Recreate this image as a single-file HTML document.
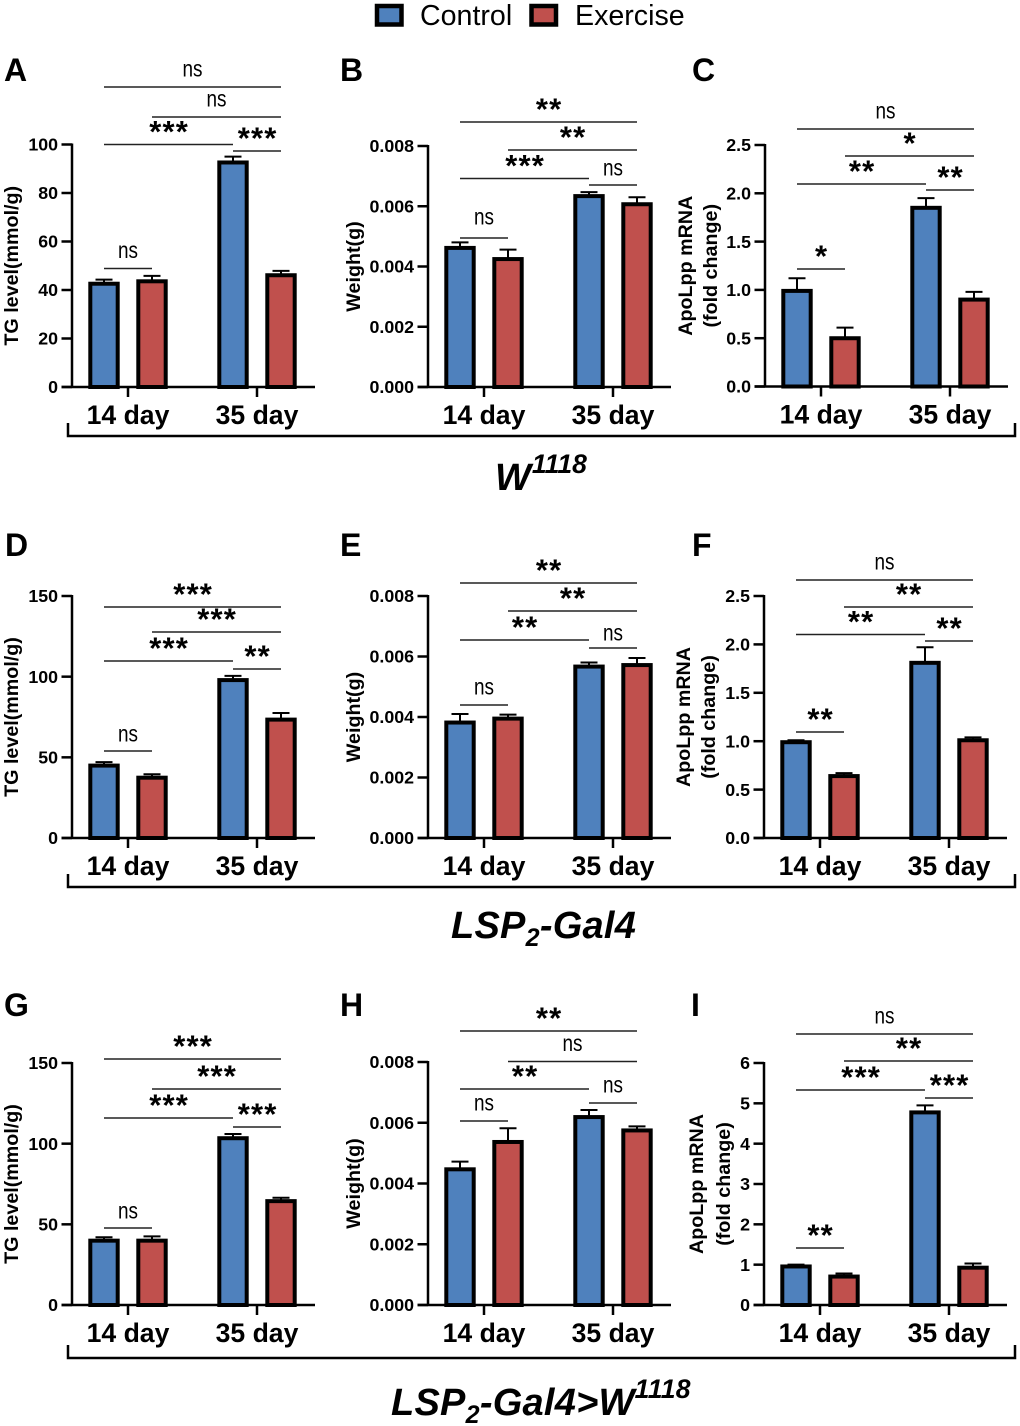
<!DOCTYPE html>
<html lang="en">
<head>
<meta charset="utf-8">
<title>Control vs Exercise bar charts</title>
<style>
html,body{margin:0;padding:0;background:#fff}
svg{display:block}
text{font-family:"Liberation Sans",Arial,sans-serif;fill:#000}
</style>
</head>
<body>
<svg id="figure" xmlns="http://www.w3.org/2000/svg" width="1020" height="1426" viewBox="0 0 1020 1426">
  <g>
    <rect x="377" y="6" width="24.5" height="18.5" fill="#4f81bd" stroke="#000" stroke-width="4.5"/>
    <text x="420" y="25" font-size="28.6">Control</text>
    <rect x="531.5" y="6" width="24.5" height="18.5" fill="#c0504d" stroke="#000" stroke-width="4.5"/>
    <text x="575" y="25" font-size="28.6">Exercise</text>
  </g>
  <text font-weight="bold" font-style="italic" font-size="38" x="495" y="490">W<tspan font-size="26.5" dy="-17" dx="1">1118</tspan></text>
  <text font-weight="bold" font-style="italic" font-size="38" x="451" y="938" letter-spacing="0.25">LSP<tspan font-size="25" dy="8">2</tspan><tspan dy="-8">-Gal4</tspan></text>
  <text font-weight="bold" font-style="italic" font-size="38" x="391" y="1415" letter-spacing="0.25">LSP<tspan font-size="25" dy="8">2</tspan><tspan dy="-8">-Gal4&gt;W</tspan><tspan font-size="26.5" dy="-17">1118</tspan></text>
  <g id="brackets"></g>
  <g id="panels"></g>
</svg>
<script>
const categories = ['14 day', '35 day'];
const seriesNames = ['Control', 'Exercise'];

const ticksTG100 = ['0', '20', '40', '60', '80', '100'];
const ticksTG150 = ['0', '50', '100', '150'];
const ticksWeight = ['0.000', '0.002', '0.004', '0.006', '0.008'];
const ticksApo25 = ['0.0', '0.5', '1.0', '1.5', '2.0', '2.5'];
const ticksApo6 = ['0', '1', '2', '3', '4', '5', '6'];

const controlA = [43, 93];
const exerciseA = [44, 46.5];
const controlErrA = [1.3, 2];
const exerciseErrA = [1.8, 1.4];
const sigA = ['ns', 'ns', '***', '***', 'ns'];

const controlB = [0.00465, 0.00637];
const exerciseB = [0.00428, 0.0061];
const controlErrB = [0.00015, 0.0001];
const exerciseErrB = [0.00028, 0.0002];
const sigB = ['**', '**', '***', 'ns', 'ns'];

const controlC = [1.0, 1.86];
const exerciseC = [0.51, 0.91];
const controlErrC = [0.12, 0.09];
const exerciseErrC = [0.1, 0.07];
const sigC = ['ns', '*', '**', '**', '*'];

const controlD = [45.5, 98.5];
const exerciseD = [38, 74];
const controlErrD = [1.5, 2];
const exerciseErrD = [1.5, 3.5];
const sigD = ['***', '***', '***', '**', 'ns'];

const controlE = [0.00385, 0.0057];
const exerciseE = [0.00398, 0.00575];
const controlErrE = [0.00025, 0.0001];
const exerciseErrE = [0.0001, 0.0002];
const sigE = ['**', '**', '**', 'ns', 'ns'];

const controlF = [1.0, 1.82];
const exerciseF = [0.65, 1.02];
const controlErrF = [0.01, 0.15];
const exerciseErrF = [0.02, 0.02];
const sigF = ['ns', '**', '**', '**', '**'];

const controlG = [40.5, 104];
const exerciseG = [40.5, 65];
const controlErrG = [1.5, 2];
const exerciseErrG = [2, 1.5];
const sigG = ['***', '***', '***', '***', 'ns'];

const controlH = [0.0045, 0.00622];
const exerciseH = [0.0054, 0.00578];
const controlErrH = [0.00022, 0.0002];
const exerciseErrH = [0.00042, 0.0001];
const sigH = ['**', 'ns', '**', 'ns', 'ns'];

const controlI = [0.98, 4.8];
const exerciseI = [0.73, 0.95];
const controlErrI = [0.02, 0.15];
const exerciseErrI = [0.05, 0.08];
const sigI = ['ns', '**', '***', '***', '**'];

const SVGNS = 'http://www.w3.org/2000/svg';
const panelsRoot = document.getElementById('panels');
const bracketsRoot = document.getElementById('brackets');

function make(parent, tag, props, text) {
  const el = document.createElementNS(SVGNS, tag);
  for (const k in props) el.setAttribute(k, props[k]);
  if (text !== undefined) el.textContent = text;
  parent.appendChild(el);
  return el;
}

/* significance brackets connect bar indexes: 0 14d-ctrl, 1 14d-ex, 2 35d-ctrl, 3 35d-ex */
const sigSpans = [[0, 3], [1, 3], [0, 2], [2, 3], [0, 1]];

function drawPanel(p) {
  const slug = p.letter.toLowerCase();
  const g = make(panelsRoot, 'g', {});
  
  

  const tickVals = p.ticks.map(Number);
  const vMin = tickVals[0];
  const vMax = tickVals[tickVals.length - 1];
  const yScale = v => p.bottom - (v - vMin) / (vMax - vMin) * (p.bottom - p.top);
  const groupX = i => p.axis + 56 + i * 129;
  const barX = (i, s) => groupX(i) + (s === 0 ? -24 : 24);

  const letter = make(g, 'text', {x: p.letterX, y: p.letterY, 'font-size': 32, 'font-weight': 'bold'}, p.letter);
  
  

  // y title
  const titleG = make(g, 'g', {});
  
  
  p.title.forEach((line, i) => {
    const bx = p.titleX[i];
    const cy = (p.top + p.bottom) / 2;
    make(titleG, 'text', {
      x: bx, y: cy, 'font-size': 19.7, 'font-weight': 'bold', 'text-anchor': 'middle',
      transform: 'rotate(-90 ' + bx + ' ' + cy + ')'
    }, line);
  });

  // bars
  [p.control, p.exercise].forEach((vals, s) => {
    const errs = s === 0 ? p.controlErr : p.exerciseErr;
    vals.forEach((v, i) => {
      const x = barX(i, s);
      const yTop = yScale(v) + 1;
      const yErr = yScale(v + errs[i]);
      const eb = make(g, 'path', {
        d: 'M' + x + ' ' + yTop + 'V' + yErr + 'M' + (x - 8.5) + ' ' + yErr + 'H' + (x + 8.5),
        fill: 'none', stroke: '#000', 'stroke-width': 2
      });
      
      
      const bar = make(g, 'rect', {
        x: x - 13.7, y: yTop, width: 27.4, height: p.bottom - yTop,
        fill: s === 0 ? '#4f81bd' : '#c0504d', stroke: '#000', 'stroke-width': 4
      });
      
      
    });
  });

  // axes
  const axisG = make(g, 'g', {stroke: '#000', 'stroke-width': 2.5, fill: 'none'});
  
  
  make(axisG, 'path', {d: 'M' + p.axis + ' ' + (p.top - 1) + 'V' + (p.bottom + 1)});
  make(axisG, 'path', {d: 'M' + (p.axis - 10.5) + ' ' + p.bottom + 'H' + (p.axis + 243)});
  p.ticks.forEach(t => {
    const y = yScale(Number(t));
    make(axisG, 'path', {d: 'M' + (p.axis - 10.5) + ' ' + y + 'H' + p.axis});
    const lab = make(g, 'text', {
      x: p.axis - 14, y: y + 6.2, 'font-size': 17.8, 'font-weight': 'bold', 'text-anchor': 'end'
    }, t);
    
    
  });
  categories.forEach((c, i) => {
    make(axisG, 'path', {d: 'M' + groupX(i) + ' ' + p.bottom + 'V' + (p.bottom + 10)});
    const lab = make(g, 'text', {
      x: groupX(i), y: p.bottom + 37, 'font-size': 26.6, 'font-weight': 'bold', 'text-anchor': 'middle'
    }, c);
    
    
  });

  // significance
  p.sig.forEach((label, i) => {
    const span = sigSpans[i];
    const x1 = barX(span[0] >> 1, span[0] % 2);
    const x2 = barX(span[1] >> 1, span[1] % 2);
    const y = p.sigY[i];
    const nudge = p.nsNudge ? (p.nsNudge[i] || 0) : 0;
    const sg = make(g, 'g', {});
    
    
    make(sg, 'path', {d: 'M' + x1 + ' ' + y + 'H' + x2, stroke: '#222', 'stroke-width': 1.5, fill: 'none'});
    const mid = (x1 + x2) / 2;
    if (label === 'ns') {
      make(sg, 'text', {
        x: mid, y: y - 10.5 + nudge, 'font-size': 23, 'text-anchor': 'middle',
        textLength: 20, lengthAdjust: 'spacingAndGlyphs'
      }, label);
    } else {
      make(sg, 'text', {
        x: mid + 0.6, y: y - 2.4, 'font-size': 31, 'font-weight': 'bold', 'text-anchor': 'middle',
        'letter-spacing': 1.2
      }, label);
    }
  });
}

const panelLayouts = [
  {letter: 'A', letterX: 4, letterY: 81, axis: 72, top: 144.5, bottom: 387, ticks: ticksTG100,
   title: ['TG level(mmol/g)'], titleX: [18], control: controlA, exercise: exerciseA, controlErr: controlErrA, exerciseErr: exerciseErrA,
   sig: sigA, sigY: [87, 117, 144.5, 151, 268.5]},
  {letter: 'B', letterX: 340, letterY: 81, axis: 428, top: 146, bottom: 387, ticks: ticksWeight,
   title: ['Weight(g)'], titleX: [360], control: controlB, exercise: exerciseB, controlErr: controlErrB, exerciseErr: exerciseErrB,
   sig: sigB, sigY: [122, 150, 178.5, 185, 238], nsNudge: [0, 0, 0, 1, -3]},
  {letter: 'C', letterX: 692, letterY: 81, axis: 765, top: 145, bottom: 386.5, ticks: ticksApo25,
   title: ['ApoLpp mRNA', '(fold change)'], titleX: [692, 717], control: controlC, exercise: exerciseC, controlErr: controlErrC, exerciseErr: exerciseErrC,
   sig: sigC, sigY: [129, 156, 184, 190, 269]},
  {letter: 'D', letterX: 5, letterY: 556, axis: 72, top: 596, bottom: 838, ticks: ticksTG150,
   title: ['TG level(mmol/g)'], titleX: [18], control: controlD, exercise: exerciseD, controlErr: controlErrD, exerciseErr: exerciseErrD,
   sig: sigD, sigY: [607, 632, 661, 669, 751], nsNudge: [0, 0, 0, 0, 1]},
  {letter: 'E', letterX: 340, letterY: 556, axis: 428, top: 596, bottom: 838, ticks: ticksWeight,
   title: ['Weight(g)'], titleX: [360], control: controlE, exercise: exerciseE, controlErr: controlErrE, exerciseErr: exerciseErrE,
   sig: sigE, sigY: [583, 611, 640, 648, 705], nsNudge: [0, 0, 0, 3, 0]},
  {letter: 'F', letterX: 692, letterY: 556, axis: 764, top: 596, bottom: 838, ticks: ticksApo25,
   title: ['ApoLpp mRNA', '(fold change)'], titleX: [690, 715], control: controlF, exercise: exerciseF, controlErr: controlErrF, exerciseErr: exerciseErrF,
   sig: sigF, sigY: [580, 607, 634.5, 641, 732]},
  {letter: 'G', letterX: 4, letterY: 1016, axis: 72, top: 1063, bottom: 1305, ticks: ticksTG150,
   title: ['TG level(mmol/g)'], titleX: [18], control: controlG, exercise: exerciseG, controlErr: controlErrG, exerciseErr: exerciseErrG,
   sig: sigG, sigY: [1059, 1089, 1118, 1127, 1228], nsNudge: [0, 0, 0, 0, 1]},
  {letter: 'H', letterX: 340, letterY: 1016, axis: 428, top: 1062, bottom: 1305, ticks: ticksWeight,
   title: ['Weight(g)'], titleX: [360], control: controlH, exercise: exerciseH, controlErr: controlErrH, exerciseErr: exerciseErrH,
   sig: sigH, sigY: [1031, 1061.5, 1089, 1103, 1121]},
  {letter: 'I', letterX: 691, letterY: 1016, axis: 764, top: 1063, bottom: 1305, ticks: ticksApo6,
   title: ['ApoLpp mRNA', '(fold change)'], titleX: [703, 730], control: controlI, exercise: exerciseI, controlErr: controlErrI, exerciseErr: exerciseErrI,
   sig: sigI, sigY: [1034, 1061, 1090, 1098, 1248]}
];
panelLayouts.forEach(drawPanel);

[436, 887, 1358].forEach((y, i) => {
  const b = make(bracketsRoot, 'path', {
    d: 'M68 ' + (y - 13) + 'V' + y + 'H1015V' + (y - 13),
    fill: 'none', stroke: '#000', 'stroke-width': 2.5
  });
  
  
});
</script>
</body>
</html>
